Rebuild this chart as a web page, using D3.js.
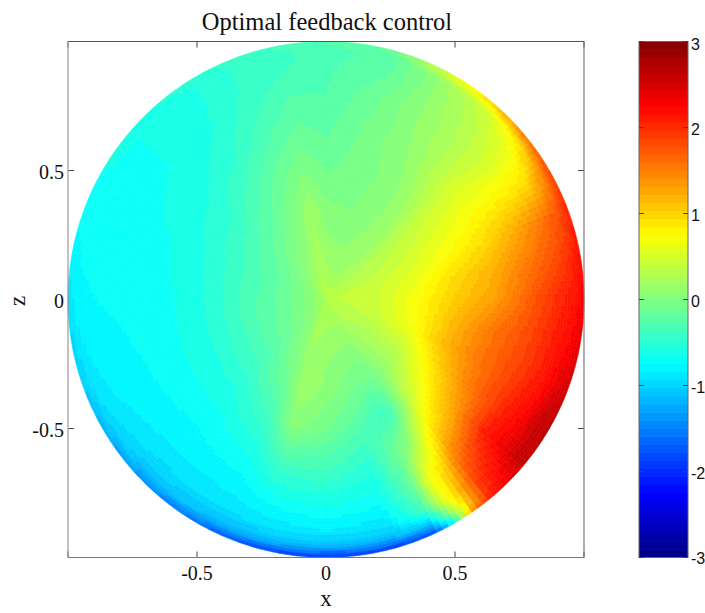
<!DOCTYPE html>
<html>
<head>
<meta charset="utf-8">
<script src="https://d3js.org/d3.v7.min.js"></script>
<style>
  html, body { margin: 0; padding: 0; background: #fff; }
  #main { width: 705px; height: 613px; }
  text { fill: #111; }
</style>
</head>
<body>
<div id="main"></div>
<script>
///////////
// DATA  //
///////////

// radial grid (unit disc), then control value along each spoke, read by colour
const radii = [0, .1, .2, .35, .5, .65, .8, .9, .96, 1]
const angles = [0, 10, 20, 30, 40, 50, 60, 75, 90, 100, 110, 125, 140, 160, 180, 200, 225, 245, 255, 270, 285, 295, 300, 305, 310, 320, 330, 340, 350]

const spoke000 = [.35, .4, .45, .72, 1.05, 1.3, 1.75, 2.0, 2.15, 2.3]
const spoke010 = [.35, .4, .45, .65, .95, 1.2, 1.55, 1.8, 2.0, 2.2]
const spoke020 = [.35, .38, .42, .55, .75, .95, 1.3, 1.6, 1.8, 2.05]
const spoke030 = [.35, .35, .35, .45, .6, .75, .85, .95, 1.4, 1.85]
const spoke040 = [.35, .3, .3, .35, .45, .55, .5, .6, .85, 1.55]
const spoke050 = [.35, .25, .18, .15, .2, .3, .3, .35, .45, 1.0]
const spoke060 = [.35, .2, .13, .08, .05, .1, .15, .15, .2, .6]
const spoke075 = [.35, .18, .1, 0, -.05, -.05, -.1, -.2, -.25, -.15]
const spoke090 = [.35, .22, .13, .03, -.1, -.2, -.28, -.3, -.32, -.28]
const spoke100 = [.35, .28, .22, .18, 0, -.15, -.28, -.38, -.4, -.35]
const spoke110 = [.35, .18, .1, 0, -.12, -.28, -.4, -.45, -.45, -.42]
const spoke125 = [.3, .12, 0, -.18, -.33, -.5, -.58, -.6, -.6, -.52]
const spoke140 = [.25, .03, -.12, -.3, -.5, -.6, -.66, -.66, -.66, -.6]
const spoke160 = [.2, -.02, -.2, -.4, -.56, -.66, -.7, -.7, -.7, -.7]
const spoke180 = [.2, -.03, -.18, -.4, -.6, -.7, -.73, -.75, -.78, -.9]
const spoke200 = [.2, -.03, -.18, -.4, -.6, -.7, -.78, -.82, -.9, -1.05]
const spoke225 = [.2, .02, -.12, -.35, -.58, -.72, -.82, -.95, -1.1, -1.4]
const spoke245 = [.25, .12, .05, -.1, -.35, -.62, -.8, -.92, -1.15, -1.7]
const spoke255 = [.3, .25, .18, .17, .05, -.35, -.7, -.9, -1.15, -1.85]
const spoke270 = [.3, .2, .12, .07, -.08, -.35, -.65, -.85, -1.15, -2.0]
const spoke285 = [.3, .2, .1, -.05, -.25, -.5, -.7, -.9, -1.15, -1.95]
const spoke295 = [.3, .2, .08, -.1, -.4, -.1, -.15, -.35, -1.1, -1.8]
const spoke300 = [.3, .2, .1, -.08, -.35, .1, .7, .55, 0, -.8]
const spoke305 = [.3, .25, .15, 0, 0, .55, 1.0, 1.2, 1.1, 1.4]
const spoke310 = [.3, .28, .18, .1, .4, .95, 1.6, 1.9, 2.0, 2.05]
const spoke320 = [.3, .3, .25, .28, .75, 1.3, 2.1, 2.35, 2.55, 2.6]
const spoke330 = [.3, .32, .32, .45, 1.0, 1.55, 2.0, 2.3, 2.6, 2.65]
const spoke340 = [.33, .35, .4, .65, 1.2, 1.6, 1.9, 2.15, 2.4, 2.5]
const spoke350 = [.35, .38, .45, .72, 1.15, 1.55, 1.85, 2.1, 2.25, 2.4]

const spokes = [spoke000, spoke010, spoke020, spoke030, spoke040, spoke050, spoke060, spoke075, spoke090, spoke100,
	spoke110, spoke125, spoke140, spoke160, spoke180, spoke200, spoke225, spoke245, spoke255, spoke270,
	spoke285, spoke295, spoke300, spoke305, spoke310, spoke320, spoke330, spoke340, spoke350]

const xTicks = [-1, -.5, 0, .5, 1]
const yTicks = [-1, -.5, 0, .5, 1]
const cbarTicks = [-3, -2, -1, 0, 1, 2, 3]
const hiddenLabels = [-1, 1]

// jet colormap stops
const jetStops = ['#000080', '#0000ff', '#00ffff', '#ffff00', '#ff0000', '#800000']
const jetDomain = [-3, -2.25, -.75, .75, 2.25, 3]

///////////
// SETUP //
///////////

let width = 705
let height = 613

let x = d3.scaleLinear().domain([-1, 1]).range([68, 584])
let y = d3.scaleLinear().domain([-1, 1]).range([557.5, 41.5])
let cbarY = d3.scaleLinear().domain([-3, 3]).range([557.5, 41.5])
let rScale = d3.scaleLinear().domain([0, 1]).range([0, 258])

let jetSmooth = d3.scaleLinear().domain(jetDomain).range(jetStops).interpolate(d3.interpolateRgb)
let levels = d3.range(64).map(i => -3 + (i + .5) * 6 / 64)
let jet = d3.scaleQuantize().domain([-3, 3]).range(levels.map(jetSmooth))

let arc = d3.arc()

let svg = d3.select("#main").append("svg")
	.attr("width", width)
	.attr("height", height)

// the figure is a slightly soft raster, this takes the edge off the cells
svg.append("defs").append("filter")
	.attr("id", "soft")
	.append("feGaussianBlur")
	.attr("stdDeviation", .7)

//////////
// DRAW //
//////////

draw_axes()
draw_disc()
draw_box()
draw_colorbar()
draw_text()

function sample(theta, r) {
	// shading only: blend between the four grid nodes around (theta, r), like shading interp
	let angs = angles.concat([360])
	let i = Math.min(d3.bisectRight(angs, theta) - 1, angles.length - 1)
	let j = Math.min(d3.bisectRight(radii, r) - 1, radii.length - 2)
	let s = (theta - angs[i]) / (angs[i + 1] - angs[i])
	let t = (r - radii[j]) / (radii[j + 1] - radii[j])
	let a = spokes[i], b = spokes[(i + 1) % spokes.length]
	return (1 - s) * ((1 - t) * a[j] + t * a[j + 1]) + s * ((1 - t) * b[j] + t * b[j + 1])
}

function draw_disc() {
	let cells = []
	let dT = 1.5, dR = 1 / 80
	for (let theta = 0; theta < 360; theta += dT) {
		for (let k = 0; k < 80; k++) {
			let r0 = k * dR, r1 = (k + 1) * dR
			cells.push({
				a0: (90 - theta - dT) * Math.PI / 180,
				a1: (90 - theta) * Math.PI / 180,
				r0: rScale(r0),
				r1: rScale(r1),
				v: sample(theta + dT / 2, (r0 + r1) / 2)
			})
		}
	}
	svg.append("g")
		.attr("transform", `translate(${x(0)},${y(0)})`)
		.attr("filter", "url(#soft)")
		.selectAll("path").data(cells)
		.enter().append("path")
			.attr("d", d => arc({innerRadius: d.r0, outerRadius: d.r1, startAngle: d.a0, endAngle: d.a1}))
			.attr("fill", d => jet(d.v))
			.attr("stroke", d => jet(d.v))
			.attr("stroke-width", .6)
}

function draw_axes() {
	// inward ticks go under the disc, same as in the figure
	let len = 6
	let g = svg.append("g").attr("stroke", "#444").attr("stroke-width", 1)
	xTicks.forEach(t => {
		g.append("line").attr("x1", x(t)).attr("x2", x(t)).attr("y1", y(-1)).attr("y2", y(-1) - len)
		g.append("line").attr("x1", x(t)).attr("x2", x(t)).attr("y1", y(1)).attr("y2", y(1) + len)
	})
	yTicks.forEach(t => {
		g.append("line").attr("y1", y(t)).attr("y2", y(t)).attr("x1", x(-1)).attr("x2", x(-1) + len)
		g.append("line").attr("y1", y(t)).attr("y2", y(t)).attr("x1", x(1)).attr("x2", x(1) - len)
	})
}

function draw_box() {
	let g = svg.append("g").attr("stroke-width", 1.2)
	g.append("line").attr("x1", x(-1)).attr("x2", x(1)).attr("y1", y(1)).attr("y2", y(1)).attr("stroke", "#555")
	g.append("line").attr("x1", x(-1)).attr("x2", x(1)).attr("y1", y(-1)).attr("y2", y(-1)).attr("stroke", "#777")
	g.append("line").attr("x1", x(-1)).attr("x2", x(-1)).attr("y1", y(-1)).attr("y2", y(1)).attr("stroke", "#999")
	g.append("line").attr("x1", x(1)).attr("x2", x(1)).attr("y1", y(-1)).attr("y2", y(1)).attr("stroke", "#777")
}

function draw_colorbar() {
	let x0 = 639, x1 = 688
	let step = (cbarY(-3) - cbarY(3)) / 64
	svg.append("g").selectAll("rect").data(levels)
		.enter().append("rect")
			.attr("x", x0)
			.attr("width", x1 - x0)
			.attr("y", d => cbarY(d) - step / 2 - .3)
			.attr("height", step + .6)
			.attr("fill", d => jet(d))
	svg.append("rect")
		.attr("x", x0).attr("y", cbarY(3))
		.attr("width", x1 - x0).attr("height", cbarY(-3) - cbarY(3))
		.attr("fill", "none").attr("stroke", "#666").attr("stroke-width", 1)
	cbarTicks.forEach(t => {
		svg.append("line").attr("x1", x0).attr("x2", x0 + 5).attr("y1", cbarY(t)).attr("y2", cbarY(t)).attr("stroke", "#444")
		svg.append("line").attr("x1", x1).attr("x2", x1 - 5).attr("y1", cbarY(t)).attr("y2", cbarY(t)).attr("stroke", "#444")
		svg.append("text")
			.attr("x", x1 + 3).attr("y", cbarY(t) + (t == 3 ? 3 : t == -3 ? 1 : 2))
			.attr("dy", ".35em")
			.style("font", "16px 'Liberation Sans', Arial, sans-serif")
			.text(t)
	})
}

function draw_text() {
	let serif = "'Liberation Serif', 'Times New Roman', serif"
	xTicks.filter(t => !hiddenLabels.includes(t)).forEach(t => {
		svg.append("text").attr("x", x(t)).attr("y", 580)
			.attr("text-anchor", "middle")
			.style("font", `20px ${serif}`)
			.text(t)
	})
	yTicks.filter(t => !hiddenLabels.includes(t)).forEach(t => {
		svg.append("text").attr("x", 64).attr("y", y(t) + 8.5)
			.attr("text-anchor", "end")
			.style("font", `20px ${serif}`)
			.text(t)
	})
	svg.append("text").attr("x", 327).attr("y", 29.5)
		.attr("text-anchor", "middle")
		.style("font", `24.5px ${serif}`)
		.text("Optimal feedback control")
	svg.append("text").attr("x", 326).attr("y", 606)
		.attr("text-anchor", "middle")
		.style("font", `23px ${serif}`)
		.text("x")
	svg.append("text")
		.attr("transform", "translate(25,301) rotate(-90)")
		.attr("text-anchor", "middle")
		.style("font", `23px ${serif}`)
		.text("z")
}
</script>
</body>
</html>
